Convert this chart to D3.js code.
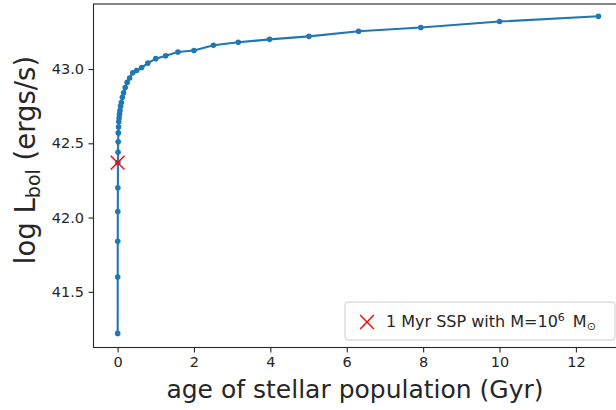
<!DOCTYPE html>
<html>
<head>
<meta charset="utf-8">
<script src="https://cdn.jsdelivr.net/npm/d3@7"></script>
<style>
  body { margin: 0; background: #fff; }
  svg { display: block; }
  text { font-family: "DejaVu Sans", sans-serif; fill: #262626; }
</style>
</head>
<body>
<svg id="chart" width="616" height="410"></svg>
<script>
// Age of the stellar population (Gyr), log-spaced in 0.1 dex steps
const ages = [0.0032, 0.004, 0.005, 0.0063, 0.0079, 0.01, 0.0126, 0.0158, 0.02, 0.0251,
              0.0316, 0.0398, 0.0501, 0.0631, 0.0794, 0.1, 0.126, 0.158, 0.2, 0.251,
              0.316, 0.398, 0.501, 0.631, 0.794, 1.0, 1.26, 1.58, 2.0, 2.51,
              3.16, 3.98, 5.01, 6.31, 7.94, 10.0, 12.59];
// Bolometric luminosity, log10 (erg/s)
const logL = [41.22, 41.60, 41.84, 42.04, 42.20, 42.37, 42.44, 42.51, 42.57, 42.61,
              42.645, 42.67, 42.695, 42.72, 42.75, 42.775, 42.81, 42.84, 42.875, 42.91,
              42.94, 42.975, 42.99, 43.01, 43.04, 43.07, 43.09, 43.115, 43.125, 43.16,
              43.18, 43.20, 43.22, 43.255, 43.28, 43.32, 43.355];
// Single 1 Myr burst of 10^6 Msun
const sspAge = [0.001];
const sspLogL = [42.37];

const xTicks = [0, 2, 4, 6, 8, 10, 12];
const yTicks = [41.5, 42.0, 42.5, 43.0];

const blue = "#1f77b4";
const svg = d3.select("#chart");
const box = { left: 93.5, right: 622.5, top: 4, bottom: 347.5 };

const x = d3.scaleLinear().domain([-0.63, 13.22]).range([box.left, box.right]);
const y = d3.scaleLinear().domain([41.125, 43.438]).range([box.bottom, box.top]);

svg.append("rect").attr("width", 616).attr("height", 410).attr("fill", "#fff");

// axes
const xAxis = svg.append("g")
  .attr("transform", `translate(0,${box.bottom})`)
  .call(d3.axisBottom(x).tickValues(xTicks).tickFormat(d3.format("d")).tickSize(5).tickPadding(4.5));
const yAxis = svg.append("g")
  .attr("transform", `translate(${box.left},0)`)
  .call(d3.axisLeft(y).tickValues(yTicks).tickFormat(d3.format(".1f")).tickSize(5).tickPadding(4.5));
[xAxis, yAxis].forEach(g => {
  g.select(".domain").remove();
  g.selectAll(".tick line").attr("stroke", "#262626").attr("stroke-width", 1.1);
  g.selectAll(".tick text").attr("font-size", 14.5).attr("font-family", "DejaVu Sans").attr("fill", "#262626");
});

// curve and markers
const pts = ages.map((a, i) => [a, logL[i]]);
svg.append("path")
  .datum(pts)
  .attr("fill", "none")
  .attr("stroke", blue)
  .attr("stroke-width", 2.1)
  .attr("stroke-linejoin", "round")
  .attr("d", d3.line().x(d => x(d[0])).y(d => y(d[1])));
svg.append("g").selectAll("circle")
  .data(pts)
  .join("circle")
  .attr("cx", d => x(d[0]))
  .attr("cy", d => y(d[1]))
  .attr("r", 2.8)
  .attr("fill", blue);

// 1 Myr SSP cross
const cross = (g, cx, cy, h) => g.append("path")
  .attr("d", `M${cx - h},${cy - h}L${cx + h},${cy + h}M${cx - h},${cy + h}L${cx + h},${cy - h}`)
  .attr("stroke", "#ff0000").attr("stroke-width", 1.4).attr("fill", "none");
sspAge.forEach((a, i) => cross(svg, x(a), y(sspLogL[i]), 6.9));

// frame
svg.append("rect")
  .attr("x", box.left).attr("y", box.top)
  .attr("width", box.right - box.left).attr("height", box.bottom - box.top)
  .attr("fill", "none").attr("stroke", "#262626").attr("stroke-width", 1.1);

// legend
const lg = svg.append("g");
lg.append("rect")
  .attr("x", 345).attr("y", 302).attr("width", 270).attr("height", 38)
  .attr("rx", 3).attr("fill", "#fff").attr("fill-opacity", 0.8)
  .attr("stroke", "#cccccc").attr("stroke-width", 1);
cross(lg, 367, 322, 6.9);
const lt = lg.append("text").attr("x", 386).attr("y", 327).attr("font-size", 16);
lt.append("tspan").text("1 Myr SSP with M=10");
lt.append("tspan").attr("font-size", 11).attr("dy", -6.5).text("6");
lt.append("tspan").attr("dy", 6.5).text("\u2002M");
lt.append("tspan").attr("font-size", 11).attr("dy", 3).text("\u2299");

// axis titles
svg.append("text")
  .attr("x", 355).attr("y", 398)
  .attr("text-anchor", "middle").attr("font-size", 25)
  .text("age of stellar population (Gyr)");
const yl = svg.append("text")
  .attr("transform", `translate(35,160) rotate(-90)`)
  .attr("text-anchor", "middle").attr("font-size", 27.5);
yl.append("tspan").text("log L");
yl.append("tspan").attr("font-size", 19).attr("dy", 5).text("bol");
yl.append("tspan").attr("dy", -5).text(" (ergs/s)");
</script>
</body>
</html>
